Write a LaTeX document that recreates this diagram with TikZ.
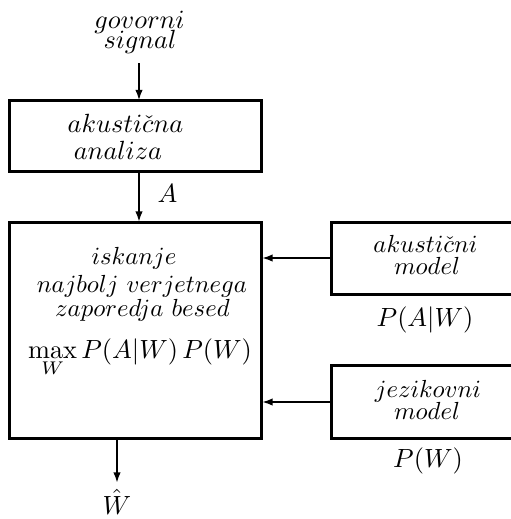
\documentclass[tikz,border=0pt]{standalone}
\usetikzlibrary{arrows.meta}
\begin{document}
\begin{tikzpicture}[x=0.38pt,y=-0.38pt,
  box/.style={draw, line width=1.14pt, inner sep=0pt, outer sep=0pt},
  arr/.style={line width=0.76pt, -{Latex[length=4pt,width=2.8pt]}},
  lbl/.style={anchor=base, inner sep=0pt}]
\useasboundingbox (0,0) rectangle (511,519);
% boxes
\node[box, minimum width=252.5*0.38pt, minimum height=70.5*0.38pt] (ana) at (135.75,135.75) {};
\node[box, minimum width=252.5*0.38pt, minimum height=216*0.38pt] (srch) at (135.75,330) {};
\node[box, minimum width=200*0.38pt, minimum height=72*0.38pt] (am) at (432,258) {};
\node[box, minimum width=200*0.38pt, minimum height=72.5*0.38pt] (jm) at (432,402) {};
% texts
\node[lbl] (t1) at (139.5,28) {$govorni$};
\node[lbl] (t2) at (140,48) {$signal$};
\node[lbl] (t3) at (125.5,132) {$akusti\check{c}na$};
\node[lbl] (t4) at (118,159) {$analiza$};
\node[lbl] (tA) at (167.5,202) {$A$};
\node[lbl] (t5) at (134,264) {\scalebox{0.94}{$iskanje$}};
\node[lbl] (t6) at (142,292) {\scalebox{0.94}{$najbolj\ verjetnega$}};
\node[lbl] (t7) at (142.5,316) {\scalebox{0.94}{$zaporedja\ besed$}};
\node[lbl] (t8) at (140,358) {$\displaystyle\max_W P(A|W)\,P(W)$};
\node[lbl] (t9) at (425.5,252) {\scalebox{0.94}{$akusti\check{c}ni$}};
\node[lbl] (t10) at (427,274) {\scalebox{0.94}{$model$}};
\node[lbl] (t11) at (425,326) {$P(A|W)$};
\node[lbl] (t12) at (428,397) {\scalebox{0.94}{$jezikovni$}};
\node[lbl] (t13) at (427,419) {\scalebox{0.94}{$model$}};
\node[lbl] (t14) at (428,467) {$P(W)$};
\node[lbl] (tW) at (117,514) {$\hat{W}$};
% connectors
\coordinate (in) at (139,63);
\coordinate (mid) at (139,171);
\coordinate (out) at (117,483);
\draw[arr] (in) -- (in |- ana.north);
\draw[arr] (ana.south -| mid) -- (mid |- srch.north);
\draw[arr] (am.west) -- (srch.east |- am.west);
\draw[arr] (jm.west) -- (srch.east |- jm.west);
\draw[arr] (srch.south -| out) -- (out);
\end{tikzpicture}
\end{document}
